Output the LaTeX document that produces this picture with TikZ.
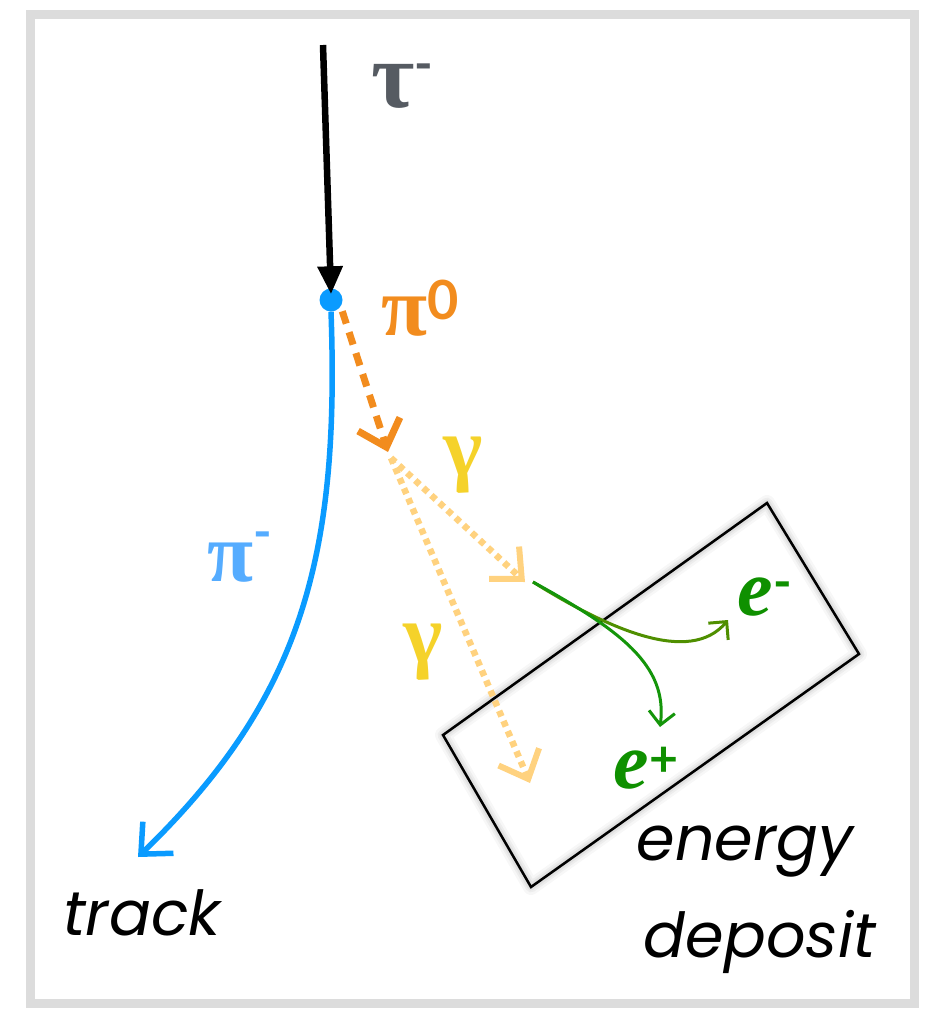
\documentclass[tikz,border=0pt]{standalone}
\usepackage{fontspec}
\setmainfont{Liberation Serif}
\newfontfamily\latofont{Lato}
\newfontfamily\wordfont{Poppins}
\usetikzlibrary{arrows.meta}
\definecolor{framecol}{HTML}{DCDCDC}
\definecolor{taucol}{HTML}{565B62}
\definecolor{bluecol}{HTML}{0A9BFF}
\definecolor{pimcol}{HTML}{55ACFF}
\definecolor{orangecol}{HTML}{F28C1E}
\definecolor{gammacol}{HTML}{F5D22A}
\definecolor{photcol}{HTML}{FFD27F}
\definecolor{elcol}{HTML}{0F9000}
\definecolor{emcol}{HTML}{4F8F00}
\definecolor{epcol}{HTML}{14950A}
\newcommand\supch[3][20pt]{\raisebox{#1}{\upshape\latofont\bfseries\fontsize{#2}{#2}\selectfont #3}}
\tikzset{
  lbl/.style={inner sep=0pt, font=\fontsize{84}{84}\selectfont\bfseries},
  elbl/.style={inner sep=0pt, font=\fontsize{80}{80}\selectfont\bfseries\itshape},
  word/.style={inner sep=0pt, font=\wordfont\itshape\fontsize{62}{62}\selectfont},
  barb/.style={-{Straight Barb[length=24pt,width=44pt,line width=#1]}},
  smallbarb/.style={-{Straight Barb[length=13pt,width=26pt,line width=#1]}},
}
\begin{document}
\begin{tikzpicture}[x=1pt,y=-1pt]
\useasboundingbox (0,0) rectangle (948,1009);
\draw[framecol, line width=9pt] (30,14) rectangle (914,1003);
% nodes
\coordinate (taustart) at (323,45);
\node[circle, fill=bluecol, inner sep=0pt, minimum size=23pt] (vtx) at (331,300) {};
\coordinate (piend) at (138,857);
\coordinate (pizend) at (388,452);
\coordinate (gstart) at (391,458);
\coordinate (g1end) at (525,582);
\coordinate (g2end) at (530,783);
\coordinate (estart) at (533,582);
\coordinate (emend) at (728,620);
\coordinate (epend) at (660,727);
% deposit box with shadow
\coordinate (bA) at (767,503);
\coordinate (bB) at (859,654);
\coordinate (bC) at (531,887);
\coordinate (bD) at (443,735);
\foreach \w/\o in {16/0.03,11/0.04,7/0.05,3/0.06}{
  \draw[black, opacity=\o, line width=\w pt, line join=round, shift={(4,7)}] (bA) -- (bB) -- (bC) -- (bD) -- cycle;
}
\draw[black, line width=2.5pt] (bA) -- (bB) -- (bC) -- (bD) -- cycle;
% tau
\draw[line width=6.5pt, -{Triangle[length=28pt,width=24pt]}] (taustart) -- ([yshift=-6pt]vtx.north);
% pi-
\draw[bluecol, line width=5.5pt, barb=5.5pt] (vtx.south) .. controls (340,560) and (300,700) .. (piend);
% pi0
\draw[orangecol, line width=7pt, dash pattern=on 13pt off 9pt, barb=7pt] ([shift={(3,3)}]vtx.south east) -- (pizend);
% photons
\draw[photcol, line width=6.5pt, dash pattern=on 6pt off 5pt, barb=6pt] (gstart) -- (g1end);
\draw[photcol, line width=6.5pt, dash pattern=on 6pt off 5pt, barb=6pt] (gstart) -- (g2end);
% e+ e-
\draw[emcol, line width=3pt, smallbarb=3pt] (estart) .. controls (610,630) and (690,665) .. (emend);
\draw[epcol, line width=3pt, smallbarb=3pt] (estart) .. controls (620,630) and (668,665) .. (epend);
% labels
\node[lbl, text=taucol, font=\fontsize{94}{94}\selectfont\bfseries] (taulbl) at (402,86) {τ\supch[26pt]{50}{-}};
\node[lbl, text=orangecol] (pizlbl) at (420,308) {π\supch[16pt]{54}{0}};
\node[lbl, text=pimcol] (pimlbl) at (240,557) {π\supch[32pt]{50}{-}};
\node[lbl, text=gammacol] (g1lbl) at (463,465) {γ};
\node[lbl, text=gammacol] (g2lbl) at (423,652) {γ};
\node[elbl, text=elcol] (emlbl) at (765,597) {e\supch[16pt]{50}{-}};
\node[elbl, text=elcol] (eplbl) at (646,768) {e\supch[12pt]{50}{+}};
\node[word] (energy) at (745,852) {energy};
\node[word] (deposit) at (760,942) {deposit};
\node[word] (track) at (142,913) {track};
\end{tikzpicture}
\end{document}
